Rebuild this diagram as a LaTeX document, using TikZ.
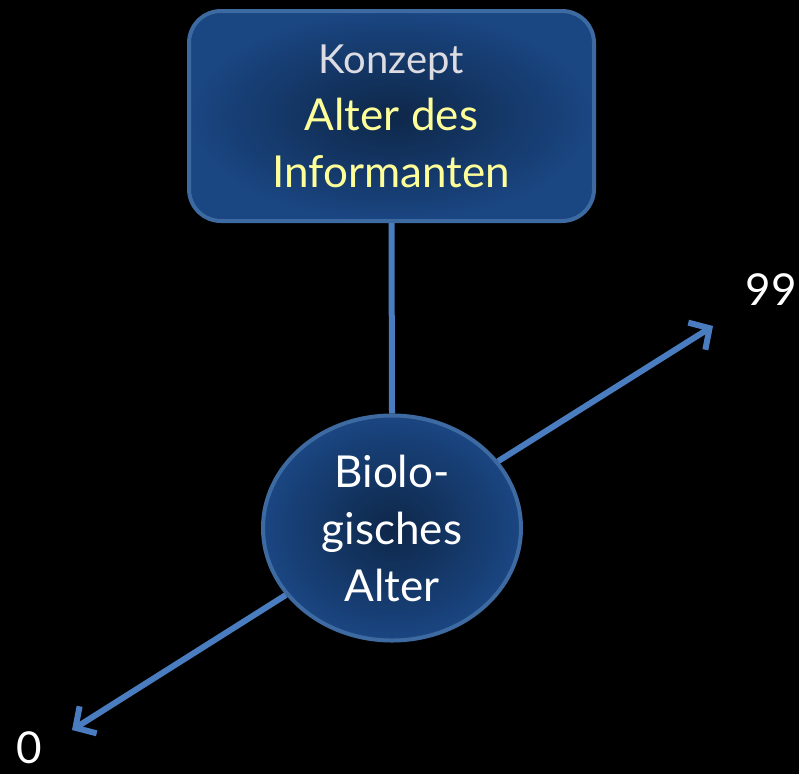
\documentclass[tikz,border=0pt]{standalone}
\usepackage{fontspec}
\setmainfont{Lato}
\usetikzlibrary{shapes.geometric,arrows.meta}
\definecolor{boxedge}{HTML}{3E6AA2}
\definecolor{boxin}{HTML}{0E2749}
\definecolor{boxout}{HTML}{1A4682}
\definecolor{linkblue}{HTML}{4A7DC0}
\definecolor{konz}{HTML}{DCDCE2}
\definecolor{yell}{HTML}{FFFF99}
\tikzset{
  concept/.style={draw=boxedge, line width=4pt, rounded corners=32pt, inner color=boxin, outer color=boxout, minimum width=405pt, minimum height=210pt, align=center, inner sep=0pt, font=\fontsize{44}{57}\selectfont},
  valuenode/.style={ellipse, draw=boxedge, line width=4pt, inner color=boxin, outer color=boxout, minimum width=258pt, minimum height=225pt, align=center, inner sep=0pt, text=white, font=\fontsize{44}{57}\selectfont},
  link/.style={draw=linkblue, line width=6pt},
  axis/.style={link, -{Straight Barb[length=15pt,width=32pt]}},
  endlabel/.style={text=white, font=\fontsize{44}{52}\selectfont, inner sep=0pt}
}
\begin{document}
\begin{tikzpicture}[x=1pt,y=-1pt]
\fill[black] (0,0) rectangle (799,774);
\useasboundingbox (0,0) rectangle (799,774);
\node[concept] (box) at (391.5,116) {{\color{konz}\fontsize{40}{57}\selectfont Konzept}\\
{\color{yell}Alter des}\\
{\color{yell}Informanten}};
\node[valuenode] (bio) at (392,528) {Biolo-\\gisches\\Alter};
\coordinate (hi) at (713,326);
\coordinate (lo) at (72,730);
\draw[link] (box.south) -- (bio.north);
\draw[axis] (bio) -- (hi);
\draw[axis] (bio) -- (lo);
\node[endlabel] (l99) at (771,290) {99};
\node[endlabel] (l0) at (29,748) {0};
\end{tikzpicture}
\end{document}
